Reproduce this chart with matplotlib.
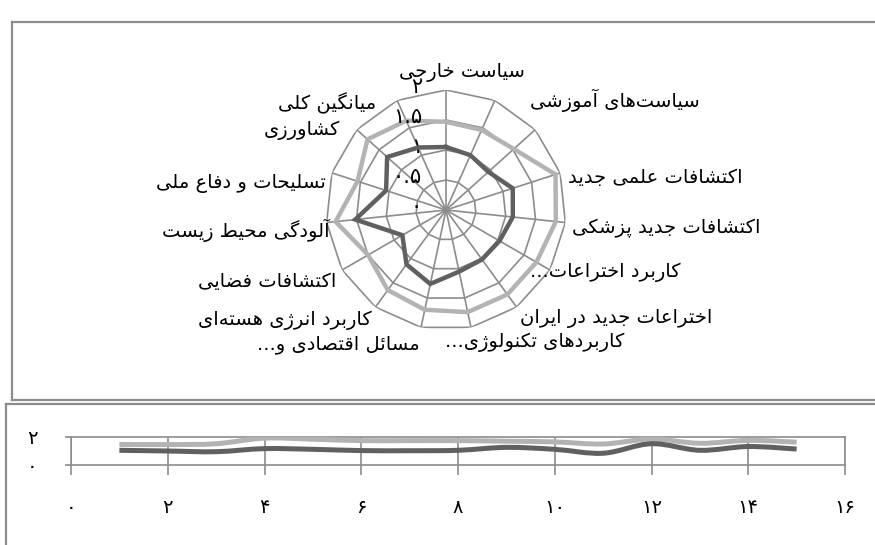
import numpy as np
import matplotlib
matplotlib.use('Agg')
import matplotlib.pyplot as plt
from matplotlib.path import Path
from matplotlib.patches import PathPatch
from matplotlib.lines import Line2D

# ---------------- data ----------------
categories = ['سیاست خارجی', 'سیاست‌های آموزشی', '', 'اکتشافات علمی جدید',
              'اکتشافات جدید پزشکی', 'کاربرد اختراعات...', 'اختراعات جدید در ایران',
              'کاربردهای تکنولوژی...', 'مسائل اقتصادی و...', 'کاربرد انرژی هسته‌ای',
              'اکتشافات فضایی', 'آلودگی محیط زیست', 'تسلیحات و دفاع ملی',
              'کشاورزی', 'میانگین کلی']
series_dark = [1.05, 1.00, 0.95, 1.17, 1.12, 1.03, 1.02, 1.05, 1.26, 1.12, 0.84, 1.52, 1.05, 1.32, 1.14]
series_light = [1.47, 1.46, 1.52, 1.92, 1.84, 1.74, 1.74, 1.74, 1.70, 1.65, 1.50, 1.85, 1.55, 1.76, 1.63]
radial_ticks = [0, 0.5, 1, 1.5, 2]
radial_labels = ['۰', '۰.۵', '۱', '۱.۵', '۲']
line_x = list(range(1, 16))
x_ticks = [0, 2, 4, 6, 8, 10, 12, 14, 16]
x_tick_labels = ['۰', '۲', '۴', '۶', '۸', '۱۰', '۱۲', '۱۴', '۱۶']
y_ticks = [0, 2]
y_tick_labels = ['۰', '۲']

# ---------------- Persian shaping ----------------
FORMS = {
    'ا': ('\uFE8D', '\uFE8E', None, None), 'آ': ('\uFE81', '\uFE82', None, None),
    'د': ('\uFEA9', '\uFEAA', None, None), 'ذ': ('\uFEAB', '\uFEAC', None, None),
    'ر': ('\uFEAD', '\uFEAE', None, None), 'ز': ('\uFEAF', '\uFEB0', None, None),
    'ژ': ('\uFB8A', '\uFB8B', None, None), 'و': ('\uFEED', '\uFEEE', None, None),
    'ب': ('\uFE8F', '\uFE90', '\uFE91', '\uFE92'), 'پ': ('\uFB56', '\uFB57', '\uFB58', '\uFB59'),
    'ت': ('\uFE95', '\uFE96', '\uFE97', '\uFE98'), 'ث': ('\uFE99', '\uFE9A', '\uFE9B', '\uFE9C'),
    'ج': ('\uFE9D', '\uFE9E', '\uFE9F', '\uFEA0'), 'چ': ('\uFB7A', '\uFB7B', '\uFB7C', '\uFB7D'),
    'ح': ('\uFEA1', '\uFEA2', '\uFEA3', '\uFEA4'), 'خ': ('\uFEA5', '\uFEA6', '\uFEA7', '\uFEA8'),
    'س': ('\uFEB1', '\uFEB2', '\uFEB3', '\uFEB4'), 'ش': ('\uFEB5', '\uFEB6', '\uFEB7', '\uFEB8'),
    'ص': ('\uFEB9', '\uFEBA', '\uFEBB', '\uFEBC'), 'ض': ('\uFEBD', '\uFEBE', '\uFEBF', '\uFEC0'),
    'ط': ('\uFEC1', '\uFEC2', '\uFEC3', '\uFEC4'), 'ظ': ('\uFEC5', '\uFEC6', '\uFEC7', '\uFEC8'),
    'ع': ('\uFEC9', '\uFECA', '\uFECB', '\uFECC'), 'غ': ('\uFECD', '\uFECE', '\uFECF', '\uFED0'),
    'ف': ('\uFED1', '\uFED2', '\uFED3', '\uFED4'), 'ق': ('\uFED5', '\uFED6', '\uFED7', '\uFED8'),
    'ک': ('\uFB8E', '\uFB8F', '\uFB90', '\uFB91'), 'گ': ('\uFB92', '\uFB93', '\uFB94', '\uFB95'),
    'ل': ('\uFEDD', '\uFEDE', '\uFEDF', '\uFEE0'), 'م': ('\uFEE1', '\uFEE2', '\uFEE3', '\uFEE4'),
    'ن': ('\uFEE5', '\uFEE6', '\uFEE7', '\uFEE8'), 'ه': ('\uFEE9', '\uFEEA', '\uFEEB', '\uFEEC'),
    'ی': ('\uFBFC', '\uFBFD', '\uFBFE', '\uFBFF'), 'ئ': ('\uFE89', '\uFE8A', '\uFE8B', '\uFE8C'),
}


def shape(text):
    n = len(text)
    out = []
    for i, c in enumerate(text):
        if c == '\u200c':
            continue
        if c not in FORMS:
            out.append(c)
            continue
        prev = text[i - 1] if i > 0 else None
        nxt = text[i + 1] if i + 1 < n else None
        con_prev = prev in FORMS and FORMS[prev][2] is not None
        con_next = nxt in FORMS and FORMS[c][2] is not None
        iso, fin, ini, med = FORMS[c]
        if con_prev and con_next:
            out.append(med)
        elif con_prev:
            out.append(fin)
        elif con_next:
            out.append(ini)
        else:
            out.append(iso)
    return ''.join(out)[::-1]


plt.rcParams['font.family'] = ['DejaVu Sans']

W, H = 875, 545
fig = plt.figure(figsize=(W / 100, H / 100), dpi=100)
fig.patch.set_facecolor('white')


def fx(px):
    return px / W


def fy(py):
    return 1 - py / H


# ---------------- frames ----------------
frame_c = '#8c8c8c'
fig.add_artist(Line2D([fx(12), fx(12)], [fy(22), fy(400)], color=frame_c, lw=1.6))
fig.add_artist(Line2D([fx(12), 1], [fy(22), fy(22)], color=frame_c, lw=1.6))
fig.add_artist(Line2D([fx(12), 1], [fy(400), fy(400)], color=frame_c, lw=1.6))
fig.add_artist(Line2D([fx(6), fx(6)], [fy(404), 0], color=frame_c, lw=1.6))
fig.add_artist(Line2D([fx(6), 1], [fy(404), fy(404)], color=frame_c, lw=1.6))

# ---------------- radar ----------------
cx, cy, R = 446, 210, 120
ax = fig.add_axes([fx(cx - R), fy(cy + R), 2 * R / W, 2 * R / H], projection='polar')
ax.set_theta_zero_location('N')
ax.set_theta_direction(-1)
ax.set_ylim(0, 2)
ax.grid(False)
ax.spines['polar'].set_visible(False)
ax.set_xticks([])
ax.set_yticks([])
ax.patch.set_alpha(0)

n = len(categories)
theta = np.arange(n) * 2 * np.pi / n
theta_c = np.append(theta, theta[0])
grid_c = '#8c8c8c'
for rv in radial_ticks[1:]:
    ax.plot(theta_c, [rv] * (n + 1), color=grid_c, lw=1.2, zorder=1)
for t in theta:
    ax.plot([t, t], [0, 2], color=grid_c, lw=1.2, zorder=1)

ax.plot(theta_c, series_light + series_light[:1], color='#b3b3b3', lw=3.2, zorder=3,
        solid_joinstyle='miter')
ax.plot(theta_c, series_dark + series_dark[:1], color='#606060', lw=3.2, zorder=4,
        solid_joinstyle='miter')

for rv, lab in zip(radial_ticks, radial_labels):
    ax.annotate(lab, xy=(0, rv), xytext=(-24, 3), textcoords='offset pixels',
                ha='right', va='center', fontsize=15, color='black', annotation_clip=False)

# category label anchors (pixel positions, ha)
label_pos = [
    (462, 73, 'center'), (530, 100, 'left'), (0, 0, 'left'), (568, 178, 'left'),
    (572, 228, 'left'), (530, 272, 'left'), (520, 318, 'left'), (445, 342, 'left'),
    (420, 345, 'right'), (372, 320, 'right'), (336, 282, 'right'), (330, 230, 'right'),
    (326, 183, 'right'), (340, 130, 'right'), (376, 103, 'right'),
]
for lab, (px, py, ha) in zip(categories, label_pos):
    if lab:
        fig.text(fx(px), fy(py), shape(lab), ha=ha, va='center', fontsize=14, color='black')

# ---------------- line chart ----------------
x0, x16, ytop, ybot = 71, 845, 437, 465
ax2 = fig.add_axes([fx(x0), fy(ybot), (x16 - x0) / W, (ybot - ytop) / H])
ax2.set_xlim(0, 16)
ax2.set_ylim(0, 2)
ax2.set_xticks(x_ticks)
ax2.set_xticklabels(x_tick_labels)
ax2.set_yticks(y_ticks)
ax2.set_yticklabels(y_tick_labels)
for s in ax2.spines.values():
    s.set_color(grid_c)
    s.set_linewidth(1.2)
ax2.tick_params(axis='x', direction='out', length=7, width=1.2, color=grid_c, pad=17,
                labelsize=14)
ax2.tick_params(axis='y', direction='out', length=4, width=1.2, color=grid_c, pad=20,
                labelsize=14)
for xt in x_ticks:
    ax2.axvline(xt, color=grid_c, lw=1.2, zorder=1)


def smooth_path(xs, ys):
    pts = np.column_stack([xs, ys]).astype(float)
    m = len(pts)
    verts = [pts[0]]
    codes = [Path.MOVETO]
    for i in range(m - 1):
        p0 = pts[i - 1] if i > 0 else pts[i]
        p1 = pts[i]
        p2 = pts[i + 1]
        p3 = pts[i + 2] if i + 2 < m else pts[i + 1]
        verts += [p1 + (p2 - p0) / 6, p2 - (p3 - p1) / 6, p2]
        codes += [Path.CURVE4] * 3
    return Path(verts, codes)


ax2.add_patch(PathPatch(smooth_path(line_x, series_light), fill=False, edgecolor='#b3b3b3',
                        lw=3.6, capstyle='butt', zorder=3))
ax2.add_patch(PathPatch(smooth_path(line_x, series_dark), fill=False, edgecolor='#606060',
                        lw=3.6, capstyle='butt', zorder=4))

fig.savefig('out.png', dpi=100, facecolor='white')
